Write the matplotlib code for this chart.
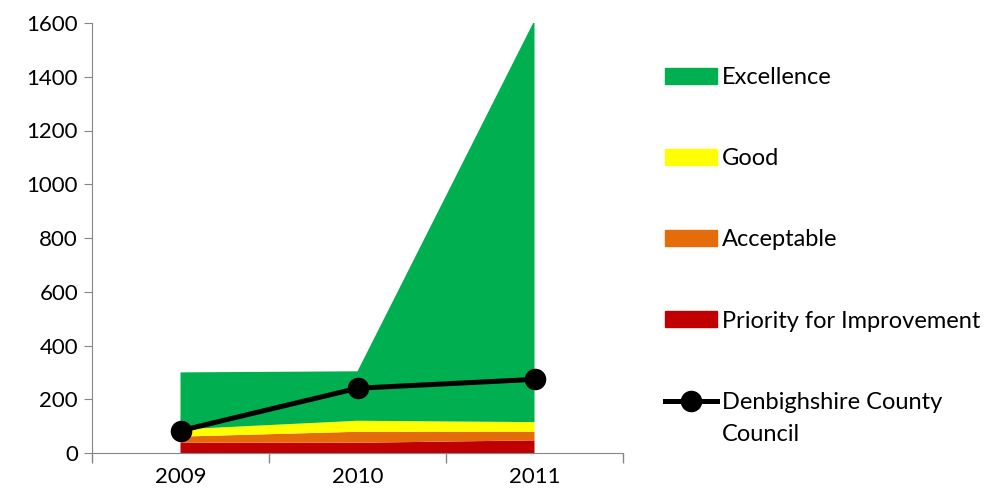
import matplotlib.pyplot as plt
import numpy as np
from matplotlib.patches import Patch
from matplotlib.lines import Line2D

years = ['2009', '2010', '2011']
priority = [38, 38, 47]
acceptable = [23, 41, 32]
good = [27, 41, 36]
excellence = [212, 184, 1495]
council = [83, 241, 274]

colors = ['#C00000', '#E46C0A', '#FFFF00', '#00B050']

plt.rcParams['font.family'] = ['Lato', 'DejaVu Sans']

fig = plt.figure(figsize=(9.98, 4.97), dpi=100)
ax = fig.add_axes([92 / 998, 1 - 453 / 497, (623 - 92) / 998, (453 - 23) / 497])

x = np.arange(len(years))
ax.stackplot(x, priority, acceptable, good, excellence, colors=colors, linewidth=0)
ax.plot(x, council, color='black', linewidth=3.6, marker='o', markersize=14.5, zorder=5)

ax.set_xlim(-0.5, len(years) - 0.5)
ax.set_ylim(0, 1600)
ax.set_yticks(np.arange(0, 1601, 200))
ax.set_xticks(x)
ax.set_xticklabels(years)
ax.set_xticks(np.arange(-0.5, len(years)), minor=True)
ax.tick_params(axis='x', which='major', length=0, labelsize=16, pad=10)
ax.tick_params(axis='x', which='minor', length=7, color='#868686', width=1)
ax.tick_params(axis='y', length=6, color='#868686', labelsize=16, pad=4)
for s in ['top', 'right']:
    ax.spines[s].set_visible(False)
for s in ['left', 'bottom']:
    ax.spines[s].set_color('#868686')
ax.set_facecolor('none')

handles = [Patch(color=colors[3]), Patch(color=colors[2]), Patch(color=colors[1]), Patch(color=colors[0]),
           Line2D([], [], color='black', linewidth=3.6, marker='o', markersize=14.5)]
labels = ['Excellence', 'Good', 'Acceptable', 'Priority for Improvement', 'Denbighshire County']
leg = fig.legend(handles, labels, loc='upper left', bbox_to_anchor=(665 / 998, 1 - 67 / 497), frameon=False,
                 fontsize=17, handlelength=2.2, handleheight=0.68, handletextpad=0.2, labelspacing=2.55,
                 borderpad=0, borderaxespad=0)

# second line of the last legend label, kept under the first line like the original
fig.canvas.draw()
last = leg.get_texts()[-1].get_window_extent()
fig.text(last.x0 / 998, (last.y0 - 32) / 497, 'Council', fontsize=17, va='bottom', ha='left')

fig.savefig('out.png', dpi=100)
